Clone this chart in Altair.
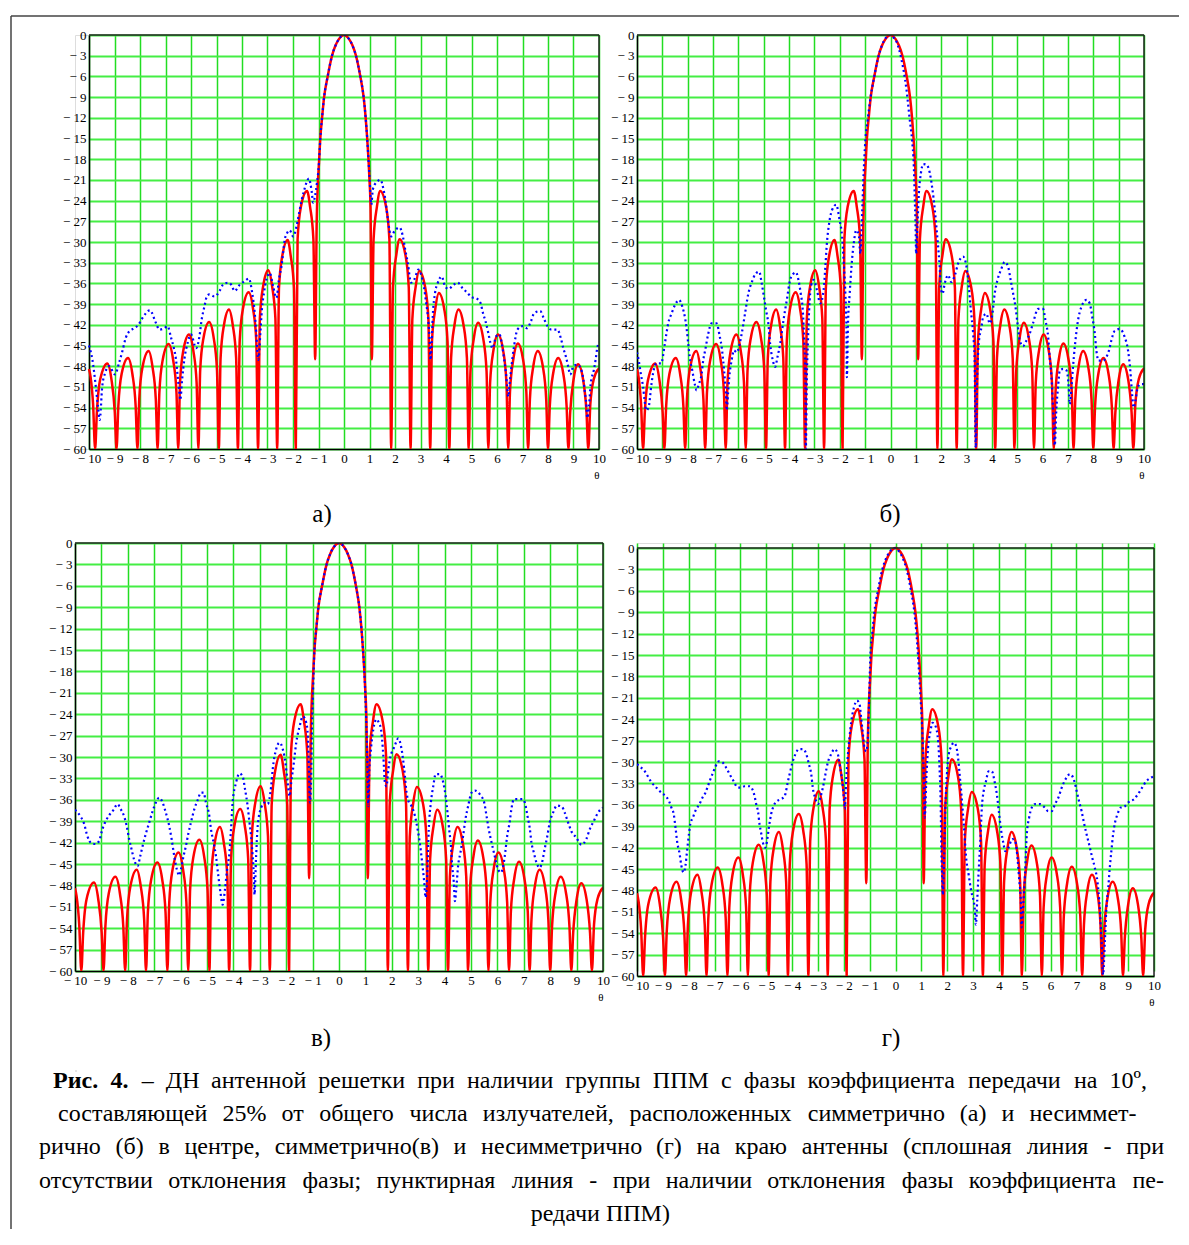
import altair as alt
import pandas as pd

FONT = "Liberation Serif, Times New Roman, DejaVu Serif, serif"

X_TICKS = list(range(-10, 11))
Y_TICKS = list(range(-60, 1, 3))

# Ideal pattern (solid red) – identical in all four panels: [theta, dB]
RED_PTS = [
    [-10.0, -48.4], [-9.94, -49.5], [-9.84, -53.5], [-9.76, -60],
    [-9.69, -54.6], [-9.56, -49.9], [-9.28, -47.6], [-9.12, -49.9], [-8.99, -54.6], [-8.92, -60],
    [-8.85, -53.8], [-8.72, -49.1], [-8.47, -46.8], [-8.30, -49.1], [-8.17, -53.8], [-8.10, -60],
    [-8.03, -52.8], [-7.90, -48.1], [-7.66, -45.8], [-7.51, -48.1], [-7.38, -52.8], [-7.31, -60],
    [-7.24, -51.8], [-7.11, -47.1], [-6.88, -44.8], [-6.70, -47.1], [-6.57, -51.8], [-6.50, -60],
    [-6.43, -50.4], [-6.30, -45.7], [-6.08, -43.4], [-5.91, -45.7], [-5.78, -50.4], [-5.71, -60],
    [-5.64, -48.6], [-5.51, -43.9], [-5.29, -41.6], [-5.11, -43.9], [-4.98, -48.6], [-4.91, -60],
    [-4.84, -46.8], [-4.71, -42.1], [-4.51, -39.8], [-4.36, -42.1], [-4.23, -46.8], [-4.16, -60],
    [-4.09, -44.3], [-3.96, -39.6], [-3.74, -37.3], [-3.57, -39.6], [-3.44, -44.3], [-3.37, -60],
    [-3.30, -41.1], [-3.17, -36.4], [-2.97, -34.1], [-2.82, -36.4], [-2.69, -41.1], [-2.62, -60],
    [-2.55, -36.7], [-2.42, -32.0], [-2.21, -29.7], [-2.09, -32.0], [-1.96, -36.7], [-1.89, -60],
    [-1.82, -29.6], [-1.69, -24.9], [-1.45, -22.6], [-1.33, -24.9], [-1.20, -29.6], [-1.13, -47],
    [-1.07, -27.0], [-1.03, -22.0], [-0.98, -18.5], [-0.93, -15.0], [-0.86, -12.0], [-0.78, -9.0],
    [-0.64, -6.0], [-0.47, -3.0], [-0.33, -1.5], [-0.20, -0.6], [0.0, 0.0],
    [0.20, -0.6], [0.33, -1.5], [0.47, -3.0], [0.64, -6.0], [0.77, -9.0], [0.85, -12.0],
    [0.91, -15.0], [0.96, -18.0], [1.00, -21.0], [1.04, -25.0], [1.09, -47],
    [1.16, -29.6], [1.29, -24.9], [1.42, -22.6], [1.65, -24.9], [1.78, -29.6], [1.85, -60],
    [1.92, -36.6], [2.05, -31.9], [2.18, -29.6], [2.41, -31.9], [2.54, -36.6], [2.61, -60],
    [2.68, -41.2], [2.81, -36.5], [2.95, -34.2], [3.18, -36.5], [3.31, -41.2], [3.38, -60],
    [3.45, -44.4], [3.58, -39.7], [3.72, -37.4], [3.93, -39.7], [4.06, -44.4], [4.13, -60],
    [4.20, -46.8], [4.33, -42.1], [4.49, -39.8], [4.69, -42.1], [4.82, -46.8], [4.89, -60],
    [4.96, -48.7], [5.09, -44.0], [5.26, -41.7], [5.46, -44.0], [5.59, -48.7], [5.66, -60],
    [5.73, -50.4], [5.86, -45.7], [6.04, -43.4], [6.24, -45.7], [6.37, -50.4], [6.44, -60],
    [6.51, -51.7], [6.64, -47.0], [6.82, -44.7], [7.02, -47.0], [7.15, -51.7], [7.22, -60],
    [7.29, -52.8], [7.42, -48.1], [7.60, -45.8], [7.80, -48.1], [7.93, -52.8], [8.00, -60],
    [8.07, -53.8], [8.20, -49.1], [8.40, -46.8], [8.60, -49.1], [8.73, -53.8], [8.80, -60],
    [8.87, -54.7], [9.00, -50.0], [9.18, -47.7], [9.38, -50.0], [9.51, -54.7], [9.58, -60],
    [9.66, -53.5], [9.80, -49.8], [10.0, -48.3],
]

# Perturbed patterns (dotted blue), panels а, б, в, г
BLUE_A = [
    [-10.0, -45.0], [-9.87, -47.0], [-9.74, -50.7], [-9.65, -53.8], [-9.58, -55.8], [-9.48, -50.9],
    [-9.37, -49.0], [-9.21, -48.0], [-8.98, -49.2], [-8.82, -47.5], [-8.69, -45.8], [-8.56, -43.9],
    [-8.43, -43.0], [-8.23, -42.5], [-8.06, -42.0], [-7.9, -41.0], [-7.61, -39.9], [-7.38, -41.7],
    [-7.24, -42.7], [-7.05, -42.5], [-6.92, -42.2], [-6.78, -43.9], [-6.69, -45.1], [-6.59, -47.0],
    [-6.52, -49.5], [-6.46, -51.6], [-6.42, -52.9], [-6.35, -50.0], [-6.26, -47.0], [-6.13, -44.6],
    [-6.0, -43.4], [-5.8, -45.4], [-5.67, -43.7], [-5.58, -41.2], [-5.47, -39.3], [-5.38, -37.9],
    [-5.28, -37.6], [-5.08, -37.9], [-4.88, -37.1], [-4.75, -36.2], [-4.55, -35.9], [-4.42, -36.2],
    [-4.29, -37.1], [-4.09, -36.2], [-3.9, -35.7], [-3.73, -35.3], [-3.6, -37.4], [-3.5, -40.3],
    [-3.44, -43.2], [-3.4, -45.8], [-3.36, -47.1], [-3.28, -43.2], [-3.22, -39.8], [-3.14, -37.4],
    [-3.04, -35.4], [-2.91, -34.5], [-2.78, -36.4], [-2.65, -38.1], [-2.55, -35.4], [-2.45, -33.5],
    [-2.32, -29.6], [-2.23, -28.7], [-2.13, -28.3], [-1.99, -29.2], [-1.86, -27.7], [-1.76, -25.8],
    [-1.67, -24.1], [-1.57, -22.6], [-1.47, -21.4], [-1.38, -20.8], [-1.27, -22.6], [-1.21, -24.3],
    [-1.14, -23.4], [-1.06, -21.4], [-0.98, -18.5], [-0.93, -15.0], [-0.86, -12.0], [-0.78, -9.0],
    [-0.64, -6.0], [-0.47, -3.0], [-0.33, -1.5], [-0.2, -0.6], [0.0, 0.0], [0.2, -0.6], [0.33, -1.5],
    [0.47, -3.0], [0.64, -6.0], [0.77, -9.0], [0.85, -12.0], [0.91, -15.0], [0.96, -18.0],
    [1.0, -20.5], [1.07, -24.6], [1.13, -22.4], [1.26, -21.4], [1.43, -21.0], [1.55, -22.4],
    [1.63, -24.1], [1.72, -26.7], [1.85, -29.2], [1.98, -28.4], [2.18, -27.9], [2.31, -29.2],
    [2.4, -31.1], [2.5, -33.0], [2.63, -35.9], [2.76, -35.4], [2.92, -34.0], [3.02, -34.7],
    [3.13, -36.4], [3.22, -38.8], [3.29, -40.8], [3.35, -43.7], [3.39, -47.1], [3.44, -44.6],
    [3.48, -40.8], [3.57, -37.4], [3.68, -35.9], [3.83, -35.0], [3.96, -36.4], [4.1, -36.8],
    [4.3, -36.2], [4.46, -35.9], [4.65, -36.7], [4.85, -37.4], [5.0, -38.0], [5.2, -38.2],
    [5.35, -38.8], [5.45, -40.3], [5.55, -41.5], [5.66, -43.2], [5.74, -44.6], [5.83, -45.4],
    [5.96, -43.7], [6.1, -43.4], [6.2, -45.0], [6.28, -47.0], [6.35, -49.0], [6.4, -51.0],
    [6.44, -52.4], [6.51, -50.0], [6.6, -47.0], [6.67, -45.1], [6.8, -42.7], [7.0, -42.2],
    [7.18, -42.5], [7.33, -41.5], [7.46, -40.3], [7.69, -40.0], [7.85, -41.2], [7.98, -42.2],
    [8.14, -42.7], [8.37, -42.7], [8.5, -43.9], [8.6, -45.4], [8.7, -46.6], [8.79, -48.0],
    [8.87, -49.2], [9.0, -48.0], [9.15, -47.8], [9.28, -48.3], [9.39, -50.0], [9.45, -51.9],
    [9.5, -53.3], [9.54, -55.5], [9.61, -53.8], [9.67, -50.7], [9.8, -48.5], [9.87, -47.0],
    [9.93, -45.4], [10.0, -44.5],
]

BLUE_B = [
    [-10.0, -46.0], [-9.93, -47.2], [-9.85, -49.1], [-9.76, -51.0], [-9.7, -53.0], [-9.63, -54.4],
    [-9.54, -53.9], [-9.43, -50.6], [-9.37, -49.1], [-9.23, -47.6], [-9.05, -47.6], [-8.9, -44.7],
    [-8.84, -43.3], [-8.77, -41.8], [-8.64, -40.4], [-8.51, -39.2], [-8.34, -38.4], [-8.21, -39.4],
    [-8.11, -40.9], [-8.05, -42.3], [-7.98, -44.7], [-7.92, -46.7], [-7.82, -48.6], [-7.72, -50.6],
    [-7.65, -51.5], [-7.56, -50.6], [-7.45, -49.1], [-7.39, -47.2], [-7.31, -45.7], [-7.19, -43.3],
    [-7.06, -41.8], [-6.86, -41.8], [-6.73, -43.8], [-6.66, -45.2], [-6.6, -47.2], [-6.53, -50.1],
    [-6.49, -52.0], [-6.46, -54.4], [-6.41, -52.0], [-6.36, -49.6], [-6.27, -47.2], [-6.17, -45.7],
    [-6.07, -46.0], [-5.87, -43.3], [-5.74, -40.4], [-5.61, -37.5], [-5.47, -35.8], [-5.32, -34.6],
    [-5.18, -34.3], [-5.08, -36.0], [-4.99, -38.0], [-4.91, -39.9], [-4.82, -41.8], [-4.75, -44.7],
    [-4.64, -47.2], [-4.55, -48.1], [-4.46, -46.7], [-4.35, -44.7], [-4.22, -41.3], [-4.09, -38.4],
    [-3.96, -35.5], [-3.83, -34.6], [-3.73, -34.4], [-3.63, -35.5], [-3.54, -37.5], [-3.46, -39.9],
    [-3.4, -44.7], [-3.36, -49.6], [-3.34, -60.0], [-3.3, -49.6], [-3.26, -44.7], [-3.21, -39.9],
    [-3.13, -36.3], [-3.03, -35.5], [-2.9, -37.0], [-2.77, -38.9], [-2.64, -37.0], [-2.57, -33.6],
    [-2.51, -30.2], [-2.44, -27.8], [-2.31, -25.4], [-2.14, -24.6], [-2.01, -26.8], [-1.91, -29.2],
    [-1.85, -32.6], [-1.78, -37.5], [-1.74, -42.3], [-1.72, -49.6], [-1.68, -42.3], [-1.61, -37.5],
    [-1.54, -33.6], [-1.45, -30.2], [-1.35, -28.3], [-1.25, -29.0], [-1.19, -31.7], [-1.12, -25.8],
    [-1.06, -20.0], [-0.99, -15.2], [-0.9, -12.3], [-0.79, -9.1], [-0.66, -6.4], [-0.5, -3.5],
    [-0.33, -1.4], [-0.16, -0.3], [-0.06, 0.0], [0.1, -0.3], [0.24, -1.0], [0.43, -3.5],
    [0.63, -7.9], [0.76, -12.3], [0.85, -15.2], [0.92, -19.0], [0.96, -23.9], [0.99, -27.8],
    [1.01, -31.7], [1.06, -27.8], [1.12, -22.9], [1.2, -20.0], [1.29, -18.7], [1.42, -18.8],
    [1.55, -20.0], [1.64, -22.0], [1.75, -25.4], [1.81, -27.8], [1.88, -30.7], [1.94, -33.6],
    [1.98, -36.5], [2.05, -37.5], [2.14, -36.0], [2.27, -34.8], [2.4, -35.8], [2.54, -34.8],
    [2.67, -33.1], [2.86, -32.1], [3.0, -33.6], [3.09, -36.5], [3.17, -39.9], [3.26, -43.3],
    [3.32, -47.2], [3.36, -59.8], [3.42, -49.6], [3.48, -44.7], [3.59, -42.3], [3.65, -40.9],
    [3.78, -40.4], [3.92, -41.8], [4.02, -40.4], [4.11, -37.5], [4.22, -35.5], [4.35, -34.1],
    [4.51, -32.9], [4.64, -33.6], [4.74, -35.5], [4.84, -37.5], [4.93, -39.4], [5.01, -41.8],
    [5.1, -44.3], [5.23, -45.1], [5.36, -44.3], [5.49, -43.3], [5.62, -41.8], [5.82, -39.7],
    [6.02, -39.7], [6.11, -41.3], [6.22, -43.8], [6.28, -46.7], [6.35, -49.6], [6.41, -54.0],
    [6.48, -59.5], [6.54, -54.4], [6.61, -51.0], [6.68, -48.6], [6.81, -48.4], [6.94, -48.6],
    [7.03, -51.0], [7.07, -53.5], [7.14, -51.0], [7.2, -48.1], [7.27, -45.2], [7.4, -41.3],
    [7.53, -39.4], [7.73, -38.4], [7.86, -38.9], [7.96, -40.9], [8.06, -43.3], [8.12, -45.7],
    [8.21, -47.2], [8.38, -47.2], [8.51, -46.7], [8.62, -45.7], [8.71, -44.3], [8.84, -42.9],
    [9.04, -42.6], [9.24, -43.8], [9.37, -45.7], [9.46, -48.6], [9.53, -52.0], [9.59, -54.0],
    [9.66, -53.0], [9.76, -51.0], [9.87, -50.6], [10.0, -50.6],
]

BLUE_C = [
    [-10.0, -37.4], [-9.78, -38.4], [-9.66, -39.3], [-9.53, -41.1], [-9.38, -42.1], [-9.22, -42.2],
    [-9.09, -41.8], [-8.96, -40.1], [-8.84, -39.0], [-8.71, -38.2], [-8.54, -37.4], [-8.39, -36.6],
    [-8.27, -37.3], [-8.14, -38.3], [-8.04, -39.7], [-7.95, -41.5], [-7.86, -42.9], [-7.76, -44.4],
    [-7.63, -45.3], [-7.53, -43.9], [-7.44, -42.5], [-7.32, -40.8], [-7.19, -39.2], [-7.06, -37.6],
    [-6.94, -36.4], [-6.81, -35.7], [-6.68, -36.4], [-6.56, -37.8], [-6.43, -39.7], [-6.34, -41.5],
    [-6.24, -43.9], [-6.14, -45.8], [-6.05, -46.6], [-5.99, -45.8], [-5.89, -43.9], [-5.8, -42.5],
    [-5.71, -40.8], [-5.61, -39.2], [-5.48, -37.3], [-5.35, -36.0], [-5.23, -35.0], [-5.13, -35.0],
    [-5.04, -36.4], [-4.91, -38.3], [-4.85, -40.1], [-4.75, -42.0], [-4.66, -43.9], [-4.57, -46.7],
    [-4.49, -49.0], [-4.41, -50.7], [-4.32, -48.6], [-4.24, -45.8], [-4.15, -43.4], [-4.09, -40.1],
    [-4.03, -36.4], [-3.9, -33.6], [-3.77, -32.3], [-3.65, -32.7], [-3.56, -34.5], [-3.46, -36.9],
    [-3.39, -39.2], [-3.33, -41.1], [-3.27, -43.9], [-3.23, -46.2], [-3.2, -49.3], [-3.14, -43.9],
    [-3.08, -39.7], [-2.95, -37.1], [-2.82, -36.4], [-2.7, -36.6], [-2.57, -34.1], [-2.51, -31.7],
    [-2.38, -28.9], [-2.25, -28.0], [-2.13, -28.9], [-2.03, -30.8], [-1.96, -33.1], [-1.87, -35.5],
    [-1.81, -33.6], [-1.71, -30.8], [-1.62, -28.0], [-1.49, -25.7], [-1.37, -24.3], [-1.24, -25.2],
    [-1.18, -27.1], [-1.14, -31.7], [-1.1, -36.4], [-1.05, -31.7], [-1.03, -27.1], [-0.99, -21.5],
    [-0.93, -15.0], [-0.86, -12.0], [-0.78, -9.0], [-0.64, -6.0], [-0.47, -3.0], [-0.33, -1.5],
    [-0.2, -0.6], [0.0, 0.0], [0.2, -0.6], [0.33, -1.5], [0.47, -3.0], [0.64, -6.0], [0.77, -9.0],
    [0.85, -12.0], [0.91, -15.0], [0.96, -18.0], [1.0, -21.5], [1.05, -27.1], [1.08, -31.7],
    [1.11, -36.9], [1.15, -31.7], [1.21, -28.9], [1.3, -26.1], [1.42, -24.7], [1.51, -25.2],
    [1.59, -26.1], [1.68, -29.9], [1.74, -33.6], [1.8, -34.1], [1.87, -31.7], [1.95, -29.9],
    [2.06, -28.9], [2.18, -27.8], [2.24, -27.4], [2.37, -28.9], [2.47, -31.7], [2.56, -35.0],
    [2.65, -36.4], [2.75, -36.9], [2.88, -38.3], [2.98, -40.2], [3.06, -42.0], [3.15, -44.8],
    [3.23, -47.6], [3.28, -49.7], [3.35, -45.8], [3.4, -40.2], [3.48, -36.4], [3.57, -34.1],
    [3.66, -32.4], [3.82, -32.4], [3.95, -33.6], [4.04, -35.5], [4.11, -37.8], [4.16, -39.7],
    [4.24, -42.5], [4.29, -45.3], [4.35, -47.6], [4.39, -50.2], [4.45, -48.1], [4.51, -45.3],
    [4.6, -43.4], [4.7, -41.1], [4.79, -38.7], [4.89, -36.9], [5.02, -35.0], [5.15, -34.7],
    [5.33, -35.2], [5.5, -36.4], [5.59, -38.3], [5.67, -40.1], [5.78, -42.0], [5.9, -43.9],
    [6.03, -45.8], [6.13, -46.2], [6.22, -45.3], [6.28, -43.9], [6.37, -41.1], [6.47, -39.0],
    [6.53, -37.3], [6.63, -35.9], [6.78, -35.9], [6.94, -35.9], [7.04, -36.4], [7.14, -38.3],
    [7.23, -40.1], [7.29, -42.0], [7.38, -43.4], [7.48, -44.8], [7.6, -45.5], [7.69, -44.8],
    [7.79, -42.9], [7.89, -41.1], [7.98, -39.2], [8.11, -37.8], [8.26, -36.8], [8.45, -37.0],
    [8.55, -37.8], [8.68, -39.2], [8.8, -40.4], [8.99, -41.3], [9.18, -42.3], [9.37, -41.5],
    [9.5, -40.1], [9.65, -39.0], [9.81, -37.8], [10.0, -37.1],
]

BLUE_D = [
    [-10.0, -30.3], [-9.9, -30.6], [-9.7, -31.3], [-9.45, -32.8], [-9.25, -33.6], [-9.06, -34.3],
    [-8.89, -34.8], [-8.76, -35.5], [-8.67, -36.4], [-8.58, -37.3], [-8.51, -39.2], [-8.45, -41.1],
    [-8.35, -42.9], [-8.29, -44.4], [-8.2, -45.5], [-8.12, -44.4], [-8.07, -42.7], [-7.99, -40.1],
    [-7.94, -38.7], [-7.84, -37.8], [-7.71, -36.6], [-7.58, -35.9], [-7.47, -35.0], [-7.35, -34.3],
    [-7.26, -33.4], [-7.16, -32.4], [-7.06, -31.5], [-6.96, -30.6], [-6.83, -29.9], [-6.68, -30.1],
    [-6.55, -30.8], [-6.42, -31.7], [-6.26, -32.7], [-6.13, -33.5], [-6.0, -33.6], [-5.84, -33.4],
    [-5.64, -33.4], [-5.54, -33.8], [-5.45, -34.8], [-5.39, -35.9], [-5.32, -36.9], [-5.26, -38.7],
    [-5.19, -40.1], [-5.13, -41.3], [-5.04, -42.0], [-4.97, -41.1], [-4.9, -39.2], [-4.81, -37.3],
    [-4.68, -35.9], [-4.59, -35.5], [-4.42, -35.2], [-4.29, -34.8], [-4.16, -32.7], [-4.07, -31.3],
    [-3.99, -30.1], [-3.87, -28.9], [-3.74, -28.2], [-3.58, -28.2], [-3.45, -28.9], [-3.35, -30.3],
    [-3.26, -31.7], [-3.2, -33.6], [-3.11, -35.0], [-3.0, -35.9], [-2.91, -35.0], [-2.81, -33.6],
    [-2.71, -31.7], [-2.62, -30.1], [-2.49, -28.9], [-2.36, -28.2], [-2.23, -28.9], [-2.14, -30.8],
    [-2.06, -32.7], [-2.0, -35.0], [-1.96, -36.6], [-1.91, -32.7], [-1.84, -28.9], [-1.78, -26.6],
    [-1.71, -24.3], [-1.61, -22.4], [-1.49, -21.4], [-1.39, -21.9], [-1.33, -23.8], [-1.26, -26.1],
    [-1.2, -28.0], [-1.13, -28.5], [-1.07, -26.6], [-1.03, -22.4], [-0.97, -15.0], [-0.9, -12.0],
    [-0.82, -9.0], [-0.68, -6.0], [-0.51, -3.0], [-0.37, -1.5], [-0.24, -0.6], [-0.04, 0.0],
    [0.16, -0.6], [0.29, -1.5], [0.43, -3.0], [0.6, -6.0], [0.73, -9.0], [0.81, -12.0],
    [0.87, -15.0], [0.92, -18.0], [0.97, -21.0], [1.03, -25.2], [1.09, -31.7], [1.13, -37.8],
    [1.2, -31.7], [1.26, -28.0], [1.35, -25.7], [1.44, -24.5], [1.54, -24.9], [1.65, -27.1],
    [1.7, -30.5], [1.75, -36.4], [1.77, -41.1], [1.8, -45.8], [1.83, -48.6], [1.88, -43.4],
    [1.93, -36.4], [1.99, -31.7], [2.06, -28.9], [2.16, -27.8], [2.25, -27.3], [2.34, -27.7],
    [2.42, -29.4], [2.48, -31.7], [2.55, -34.5], [2.61, -37.3], [2.67, -40.1], [2.72, -42.9],
    [2.83, -45.8], [2.93, -48.1], [3.06, -50.4], [3.11, -52.8], [3.16, -49.5], [3.21, -45.8],
    [3.28, -41.1], [3.34, -36.4], [3.41, -34.1], [3.5, -32.7], [3.6, -31.3], [3.73, -31.3],
    [3.83, -32.7], [3.92, -34.5], [4.01, -37.3], [4.09, -39.7], [4.18, -41.5], [4.24, -42.5],
    [4.37, -42.0], [4.52, -40.8], [4.63, -41.1], [4.73, -43.9], [4.79, -46.7], [4.85, -49.5],
    [4.88, -53.2], [4.95, -49.5], [5.01, -45.8], [5.08, -40.1], [5.17, -37.8], [5.27, -36.4],
    [5.4, -35.9], [5.59, -35.9], [5.78, -36.4], [5.91, -36.9], [6.04, -36.9], [6.17, -35.9],
    [6.3, -35.0], [6.43, -33.6], [6.58, -32.4], [6.75, -31.7], [6.92, -32.7], [7.01, -34.1],
    [7.1, -35.5], [7.2, -36.9], [7.3, -38.7], [7.39, -40.1], [7.52, -42.0], [7.61, -43.4],
    [7.71, -44.8], [7.81, -46.7], [7.9, -50.4], [7.97, -55.1], [8.03, -59.8], [8.1, -55.1],
    [8.16, -50.4], [8.23, -47.6], [8.29, -44.8], [8.35, -42.5], [8.42, -40.1], [8.48, -38.7],
    [8.59, -37.3], [8.71, -36.4], [8.87, -36.2], [9.06, -35.5], [9.23, -35.2], [9.38, -34.5],
    [9.54, -33.6], [9.7, -32.7], [9.83, -32.3], [10.0, -32.0],
]

PANEL_LABELS = ["а)", "б)", "в)", "г)"]
CAPTION_BOLD = "Рис. 4."
CAPTION_LINES = [
    "– ДН антенной решетки при наличии группы ППМ с фазы коэффициента передачи на 10º,",
    "составляющей  25% от общего числа излучателей, расположенных симметрично (а) и несиммет-",
    "рично (б) в центре, симметрично(в) и несимметрично (г) на краю антенны (сплошная линия - при",
    "отсутствии отклонения фазы; пунктирная линия  - при наличии отклонения фазы коэффициента пе-",
    "редачи ППМ)",
]

# ---- text layout helpers (approximate Times/Liberation Serif advance widths, 1/1000 em) ----
_W = {
    "а": 444, "б": 509, "в": 472, "г": 410, "д": 509, "е": 444, "ж": 691, "з": 395, "и": 535,
    "й": 535, "к": 486, "л": 499, "м": 633, "н": 535, "о": 500, "п": 535, "р": 500, "с": 444,
    "т": 437, "у": 500, "ф": 648, "х": 500, "ц": 535, "ч": 503, "ш": 770, "щ": 770, "ъ": 517,
    "ы": 672, "ь": 456, "э": 429, "ю": 747, "я": 485,
    "Р": 556, "Д": 661, "Н": 722, "П": 722, "М": 889,
    " ": 250, ",": 250, ".": 250, "(": 333, ")": 333, "-": 333, "–": 500, "%": 833, ";": 278,
    "º": 310,
}


def text_w(s, size, bold=False):
    return sum(_W.get(c, 500) for c in s) * size / 1000.0 * (1.06 if bold else 1.0)


FS = 24
# caption line extents (page x) and vertical centres (page y)
LINE_LR = [(52, 1146), (57, 1135), (38, 1163), (38, 1163)]
LINE_Y = [1080, 1113, 1146, 1180, 1213]
ORIGIN = (74, 1069)  # page position of the caption view

cap_rows = []
for i in range(4):
    words = CAPTION_LINES[i].split()
    bolds = [False] * len(words)
    if i == 0:
        words = CAPTION_BOLD.split() + words
        bolds = [True, True] + bolds
    widths = [text_w(w, FS, b) for w, b in zip(words, bolds)]
    L, R = LINE_LR[i]
    gap = (R - L - sum(widths)) / (len(words) - 1)
    x = L
    for w, b, wd in zip(words, bolds, widths):
        cap_rows.append({"t": w, "px": x - ORIGIN[0], "py": LINE_Y[i] - ORIGIN[1], "b": b})
        x += wd + gap
last = CAPTION_LINES[4]
cap_rows.append({"t": last, "px": 600 - text_w(last, FS) / 2 - ORIGIN[0],
                 "py": LINE_Y[4] - ORIGIN[1], "b": False})
cap_df = pd.DataFrame(cap_rows)


def to_df(pts):
    return pd.DataFrame(pts, columns=["x", "y"])


def make_panel(blue_pts, label, w, h, lab_x, lab_y, xr=None, yr=None, yoff=0, extra=()):
    xsc = dict(domain=[-10, 10], nice=False, zero=False)
    if xr:
        xsc["range"] = xr
    ysc = dict(domain=[-60, 0], nice=False, zero=False)
    if yr:
        ysc["range"] = yr
    xs = alt.Scale(**xsc)
    ys = alt.Scale(**ysc)
    xax = alt.Axis(
        values=X_TICKS,
        labelExpr="datum.value < 0 ? '− ' + abs(datum.value) : '' + datum.value",
        title="θ", titleAnchor="end", titleFont=FONT, titleFontSize=11,
        titleFontWeight="normal", titleColor="black", titlePadding=4,
        grid=True, gridColor="#22dd22", gridWidth=1.5, gridOpacity=1,
        ticks=False, domainColor="black", domainWidth=1.5,
        labelFont=FONT, labelFontSize=13, labelColor="black", labelPadding=3,
        labelOverlap=False, labelFlush=False, labelBound=False,
    )
    yk = dict(
        values=Y_TICKS,
        labelExpr="datum.value < 0 ? '− ' + abs(datum.value) : '0'",
        title=None,
        grid=True, gridColor="#44ee44", gridWidth=2, gridOpacity=1,
        ticks=False, domainColor="black", domainWidth=1.5,
        labelFont=FONT, labelFontSize=13, labelColor="black", labelPadding=3,
        labelOverlap=False, labelFlush=False, labelBound=False,
    )
    if yoff:
        yk["offset"] = yoff
    yax = alt.Axis(**yk)

    X = alt.X("x:Q", scale=xs, axis=xax)
    Y = alt.Y("y:Q", scale=ys, axis=yax)

    red = alt.Chart(to_df(RED_PTS)).mark_line(
        color="#ff0000", strokeWidth=2.5, interpolate="monotone", clip=True
    ).encode(x=X, y=Y)
    blue = alt.Chart(to_df(blue_pts)).mark_line(
        color="#0000ff", strokeWidth=2.2, strokeDash=[2, 3], strokeCap="butt",
        interpolate="monotone", clip=True
    ).encode(x=X, y=Y)
    top = alt.Chart(pd.DataFrame({"x": [-10], "x2": [10], "y": [0]})).mark_rule(
        color="#222222", strokeWidth=1.5
    ).encode(x=X, x2="x2:Q", y=Y)
    right = alt.Chart(pd.DataFrame({"x": [10], "y": [-60], "y2": [0]})).mark_rule(
        color="#222222", strokeWidth=1.5
    ).encode(x=X, y=Y, y2="y2:Q")
    lab = alt.Chart(pd.DataFrame({"t": [label]})).mark_text(
        font=FONT, fontSize=25, align="center", baseline="middle", color="black"
    ).encode(x=alt.value(lab_x), y=alt.value(lab_y), text="t:N")
    return alt.layer(red, blue, top, right, lab, *extra).properties(width=w, height=h)


# outer frame lines, positioned relative to panel в (bottom-left)
one = pd.DataFrame({"t": [""]})
frame_layers = [
    alt.Chart(one).mark_rule(color="#444444", strokeWidth=1.5).encode(
        x=alt.value(-64), y=alt.value(-527), y2=alt.value(686)),
    alt.Chart(one).mark_rule(color="#444444", strokeWidth=1.5).encode(
        x=alt.value(-64), x2=alt.value(1104), y=alt.value(-527)),
]

pa = make_panel(BLUE_A, PANEL_LABELS[0], 524, 414, 247, 479, xr=[14, 524], yoff=-14)
pb = make_panel(BLUE_B, PANEL_LABELS[1], 507, 414, 253, 479)
pc = make_panel(BLUE_C, PANEL_LABELS[2], 528, 428, 246, 495, extra=frame_layers)
pd_ = make_panel(BLUE_D, PANEL_LABELS[3], 517, 433, 254, 495, yr=[433, 5])

cap_norm = alt.Chart(cap_df[~cap_df["b"]]).mark_text(
    font=FONT, fontSize=FS, align="left", baseline="middle", color="black"
).encode(x=alt.X("px:Q", scale=None), y=alt.Y("py:Q", scale=None), text="t:N")
cap_bold = alt.Chart(cap_df[cap_df["b"]]).mark_text(
    font=FONT, fontSize=FS, fontWeight="bold", align="left", baseline="middle", color="black"
).encode(x=alt.X("px:Q", scale=None), y=alt.Y("py:Q", scale=None), text="t:N")
caption = alt.layer(cap_norm, cap_bold).properties(width=1, height=1)

chart = alt.concat(
    pa, pb, pc, pd_, caption, columns=2, spacing={"row": 94, "column": 34},
    bounds="flush", align="each"
).properties(
    padding={"left": 1, "top": 6, "right": 0, "bottom": 0}
).configure_view(strokeWidth=0).configure(font=FONT)

chart.save("out.html", embed_options={"renderer": "svg", "actions": False})
